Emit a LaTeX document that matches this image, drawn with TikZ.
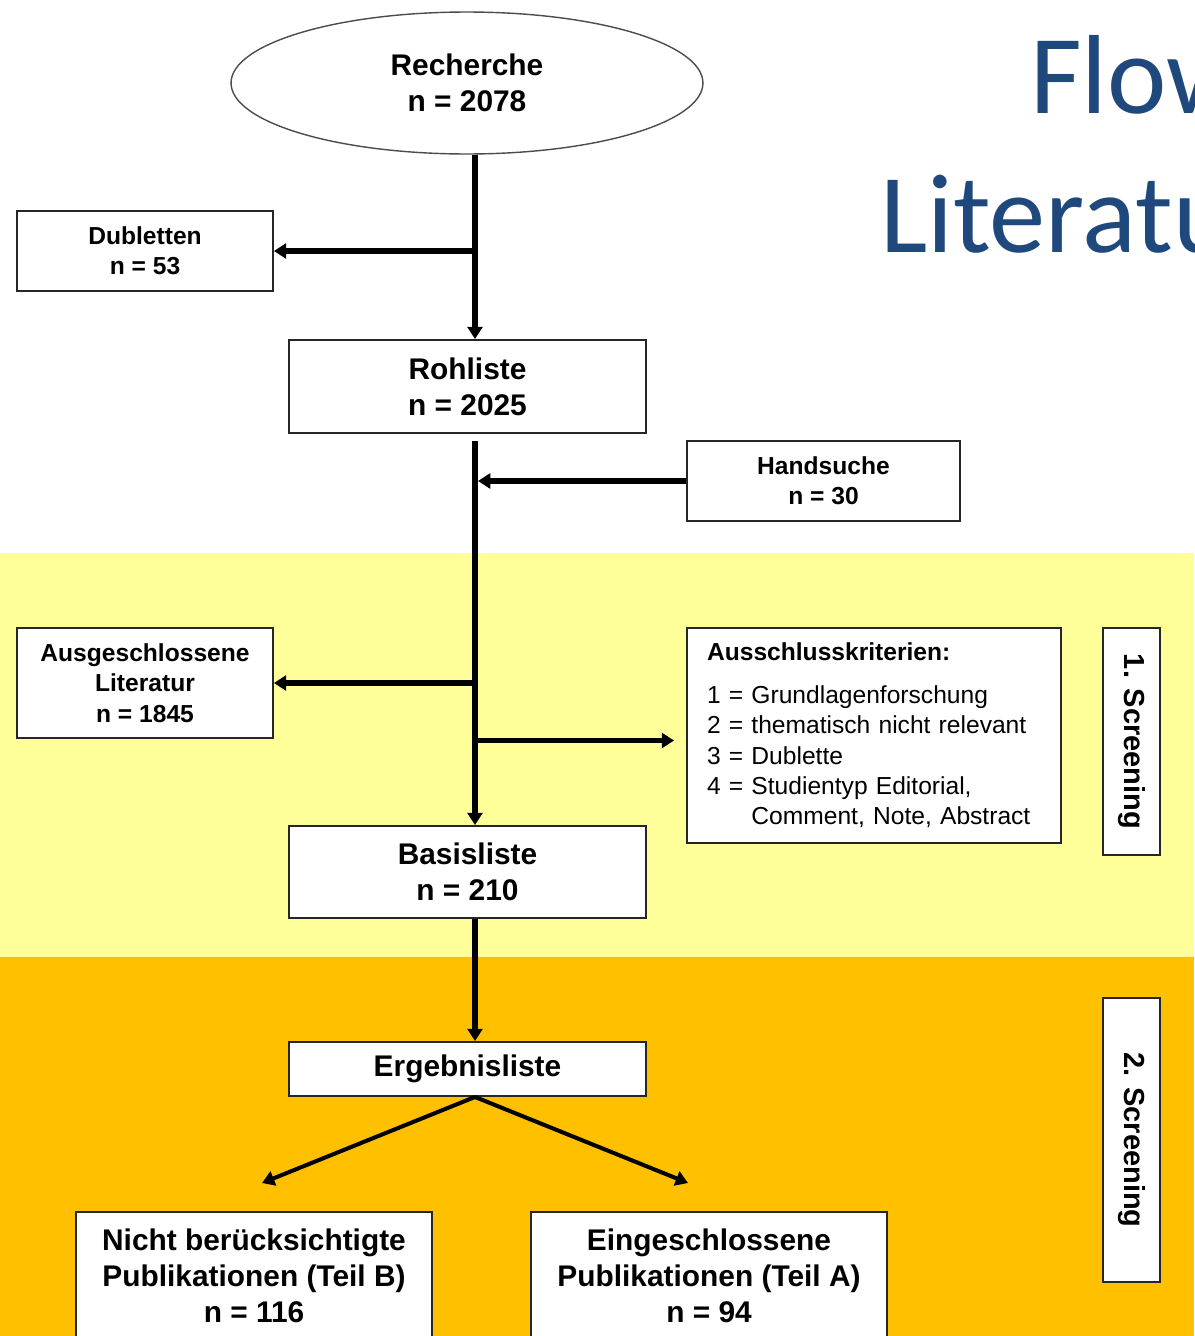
\documentclass[tikz,border=0pt]{standalone}
\usepackage{fontspec}
\setmainfont{Liberation Sans}
\newfontfamily\titlefont{Carlito}
\usetikzlibrary{shapes.geometric,arrows.meta}
\definecolor{screenone}{RGB}{255,255,153}
\definecolor{screentwo}{RGB}{255,192,0}
\definecolor{titleblue}{RGB}{31,73,125}
\tikzset{
  box/.style={draw=black!85, line width=1.1pt, fill=white, inner sep=0pt, align=center},
  big/.style={font=\bfseries\fontsize{17}{20.4}\selectfont},
  small/.style={font=\bfseries\fontsize{14}{17.3}\selectfont},
  arr/.style={line width=3.2pt, -{Triangle[length=7pt,width=8.5pt]}},
  diag/.style={line width=2.3pt, -{Triangle[length=7pt,width=8.5pt]}},
}
\begin{document}
\begin{tikzpicture}[x=0.02cm,y=-0.02cm]
      \useasboundingbox (0,0) rectangle (1194,1336) ;
      \clip (0,0) rectangle (1194,1336) ;
      % Hintergrund
      \fill[white] (0,0) rectangle (1194,553) ;
      \fill[screenone] (0,553) rectangle (1194,957) ;
      \fill[screentwo] (0,957) rectangle (1194,1336) ;
      % Titel
      \node[anchor=base west,inner sep=0pt,text=titleblue,font=\titlefont\fontsize{64}{70}\selectfont] %
      (T1) at (1030,113) {Flow} ;
      \node[anchor=base west,inner sep=0pt,text=titleblue,font=\titlefont\fontsize{64}{70}\selectfont] %
      (T2) at (880,252) {Literatu} ;
      \coordinate (spine) at (475,0) ;
      % Knoten
      \node[ellipse,draw=black!70,line width=0.8pt,fill=white,inner sep=0pt,align=center,big,%
      minimum width=9.44cm,minimum height=2.84cm] (rech) at (467,83) {Recherche\\n = 2078} ;
      \node[box,small,minimum width=5.12cm,minimum height=1.6cm] (dub) at (145,251) {Dubletten\\n = 53} ;
      \node[box,big,minimum width=7.14cm,minimum height=1.86cm] (roh) at (467.5,386.5) {Rohliste\\n = 2025} ;
      \node[box,small,minimum width=5.46cm,minimum height=1.6cm] (hand) at (823.5,481) {Handsuche\\n = 30} ;
      \node[box,small,minimum width=5.12cm,minimum height=2.2cm] (ausg) at (145,683) %
      {Ausgeschlossene\\Literatur\\n = 1845} ;
      \node[box,align=left,inner xsep=0.4cm,text width=6.68cm,minimum height=4.3cm,%
      font=\fontsize{14}{17.3}\selectfont] (krit) at (874,735.5)
      {\textbf{Ausschlusskriterien:}\\[7pt]
       1 = Grundlagenforschung\\
       2 = thematisch nicht relevant\\
       3 = Dublette\\
       4 = Studientyp Editorial,\\
       \phantom{4 = }Comment, Note, Abstract} ;
      \node[box,rotate=-90,font=\bfseries\fontsize{16.5}{20}\selectfont,%
      minimum width=4.54cm,minimum height=1.14cm] (scr1) at (1131.5,741.5) {1. Screening} ;
      \node[box,big,minimum width=7.14cm,minimum height=1.84cm] (basis) at (467.5,872) {Basisliste\\n = 210} ;
      \node[box,big,minimum width=7.14cm,minimum height=1.08cm] (erg) at (467.5,1069) {Ergebnisliste} ;
      \node[box,rotate=-90,font=\bfseries\fontsize{16.5}{20}\selectfont,%
      minimum width=5.68cm,minimum height=1.14cm] (scr2) at (1131.5,1140) {2. Screening} ;
      \node[box,big,minimum width=7.12cm,minimum height=2.56cm] (nicht) at (254,1276) %
      {Nicht berücksichtigte\\Publikationen (Teil B)\\n = 116} ;
      \node[box,big,minimum width=7.12cm,minimum height=2.56cm] (ein) at (709,1276) %
      {Eingeschlossene\\Publikationen (Teil A)\\n = 94} ;
      % Pfeile
      \draw[arr] (rech.south -| spine) -- (roh.north -| spine) ;
      \draw[arr] (spine |- dub.east) -- (dub.east) ;
      \draw[arr] ([yshift=-0.14cm]roh.south -| spine) -- (basis.north -| spine) ;
      \draw[arr] (hand.west) -- ([xshift=0.06cm]spine |- hand.west) ;
      \draw[arr] (spine |- ausg.east) -- (ausg.east) ;
      \coordinate (kin) at ([shift={(-12,5)}]krit.west) ;
      \draw[arr] (spine |- kin) -- (kin) ;
      \draw[arr] (basis.south -| spine) -- (erg.north -| spine) ;
      \coordinate (lnicht) at (262,1183) ;
      \coordinate (lein) at (688,1183) ;
      \draw[diag] (erg.south -| spine) -- (lnicht) ;
      \draw[diag] (erg.south -| spine) -- (lein) ;
    \end{tikzpicture}
\end{document}
